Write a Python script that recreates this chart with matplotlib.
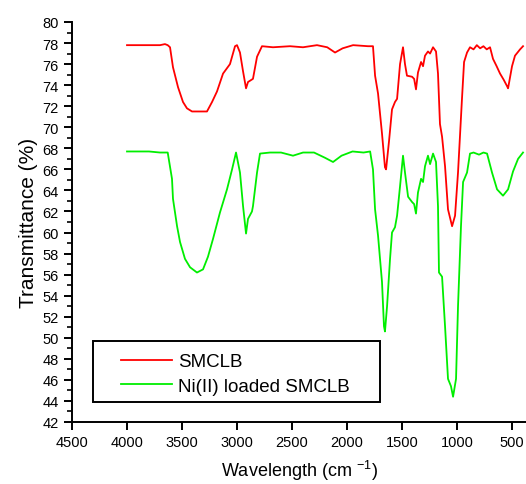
import matplotlib
matplotlib.use("Agg")
import matplotlib.pyplot as plt
from matplotlib.ticker import MultipleLocator
from matplotlib.patches import Rectangle

plt.rcParams['font.family'] = ['Liberation Sans', 'DejaVu Sans']
plt.rcParams['mathtext.default'] = 'regular'

# SMCLB spectrum (wavenumber cm-1, transmittance %)
smclb_wn = [4000, 3900, 3800, 3700, 3655, 3630, 3609, 3582, 3536, 3491, 3455, 3409,
            3340, 3273, 3227, 3182, 3127, 3064, 3018, 3000, 2973, 2945, 2918, 2900,
            2855, 2818, 2773, 2673, 2518, 2400, 2273, 2180, 2109, 2040, 1945, 1809,
            1764, 1745, 1718, 1682, 1655, 1645, 1618, 1591, 1564, 1545, 1518, 1491,
            1473, 1455, 1409, 1390, 1373, 1355, 1327, 1309, 1291, 1264, 1245, 1218,
            1191, 1173, 1155, 1136, 1109, 1082, 1045, 1018, 991, 955, 936, 909, 882,
            850, 820, 790, 760, 730, 700, 673, 640, 609, 575, 545, 536, 500, 473,
            427, 400]
smclb_t = [77.8, 77.8, 77.8, 77.8, 77.9, 77.8, 77.6, 75.7, 73.8, 72.4, 71.8, 71.5,
           71.5, 71.5, 72.4, 73.4, 75.1, 76.0, 77.7, 77.8, 77.1, 75.3, 73.7, 74.3,
           74.6, 76.7, 77.7, 77.6, 77.7, 77.6, 77.8, 77.6, 77.1, 77.5, 77.8, 77.7,
           77.7, 74.9, 73.2, 69.4, 66.2, 66.0, 68.7, 71.7, 72.4, 72.7, 76.0, 77.6,
           76.0, 74.9, 74.8, 74.6, 73.6, 75.2, 76.2, 75.8, 76.8, 77.2, 77.0, 77.6,
           77.2, 75.1, 70.3, 69.1, 66.3, 62.2, 60.6, 61.6, 65.7, 72.7, 76.2, 77.1,
           77.6, 77.4, 77.8, 77.5, 77.7, 77.4, 77.6, 76.5, 75.8, 75.1, 74.5, 73.9,
           73.7, 75.8, 76.8, 77.4, 77.7]

# Ni(II) loaded SMCLB spectrum
ni_wn = [4000, 3900, 3800, 3700, 3630, 3591, 3582, 3545, 3518, 3473, 3427, 3364,
         3309, 3264, 3218, 3155, 3091, 3045, 3009, 2973, 2945, 2918, 2900, 2864,
         2855, 2818, 2791, 2700, 2600, 2491, 2400, 2300, 2200, 2127, 2050, 1950,
         1850, 1790, 1764, 1745, 1718, 1682, 1664, 1655, 1636, 1609, 1591, 1564,
         1545, 1518, 1491, 1473, 1445, 1409, 1390, 1373, 1355, 1327, 1309, 1291,
         1264, 1245, 1218, 1191, 1173, 1164, 1136, 1109, 1082, 1055, 1036, 1009,
         991, 964, 945, 909, 882, 850, 800, 760, 727, 682, 636, 582, 536, 491,
         445, 400]
ni_t = [67.7, 67.7, 67.7, 67.6, 67.6, 65.1, 63.2, 60.6, 59.1, 57.5, 56.7, 56.2,
        56.5, 57.7, 59.4, 61.9, 64.1, 66.0, 67.6, 65.7, 62.5, 59.9, 61.3, 62.0,
        62.5, 65.7, 67.5, 67.6, 67.6, 67.3, 67.6, 67.6, 67.1, 66.7, 67.3, 67.7,
        67.6, 67.7, 66.0, 62.2, 59.7, 55.3, 51.1, 50.6, 53.0, 57.5, 60.0, 60.5,
        61.6, 64.4, 67.3, 65.7, 63.4, 62.9, 62.7, 61.8, 63.8, 65.1, 64.8, 66.3,
        67.3, 66.5, 67.5, 66.7, 62.5, 56.2, 55.8, 51.1, 46.1, 45.4, 44.4, 46.1,
        53.0, 60.6, 64.8, 65.7, 67.5, 67.6, 67.4, 67.6, 67.5, 65.7, 64.1, 63.5,
        64.1, 65.8, 67.0, 67.6]

fig = plt.figure(figsize=(5.26, 4.85), dpi=100)
ax = fig.add_axes([72 / 526, 62 / 485, 454 / 526, 400 / 485])

ax.plot(smclb_wn, smclb_t, color='#ff0000', lw=1.3, label='SMCLB')
ax.plot(ni_wn, ni_t, color='#00ee00', lw=1.3, label='Ni(II) loaded SMCLB')

ax.set_xlim(4500, 373)
ax.set_ylim(42, 80)
ax.xaxis.set_major_locator(MultipleLocator(500))
ax.yaxis.set_major_locator(MultipleLocator(2))
ax.yaxis.set_minor_locator(MultipleLocator(1))

for side in ['top', 'right']:
    ax.spines[side].set_visible(False)
for side in ['left', 'bottom']:
    ax.spines[side].set_linewidth(1.4)

ax.tick_params(which='major', direction='out', length=6, width=1.4, labelsize=10.5)
ax.tick_params(which='minor', direction='out', length=3.5, width=1.2)

ax.set_ylabel('Transmittance (%)', fontsize=15, labelpad=3)
ax.set_xlabel('Wavelength (cm $^{-1}$)', fontsize=13, labelpad=6)

# legend frame drawn separately, entries placed inside it
ax.add_patch(Rectangle((0.046, 0.05), 0.632, 0.1525, transform=ax.transAxes,
                       fill=False, edgecolor='black', lw=1.4, zorder=5))
leg = ax.legend(loc='upper left', bbox_to_anchor=(0.108, 0.172),
                borderaxespad=0, borderpad=0, frameon=False, fontsize=13.5,
                handlelength=2.7, handletextpad=0.35, labelspacing=0.4)

fig.savefig('out.png', dpi=100)
